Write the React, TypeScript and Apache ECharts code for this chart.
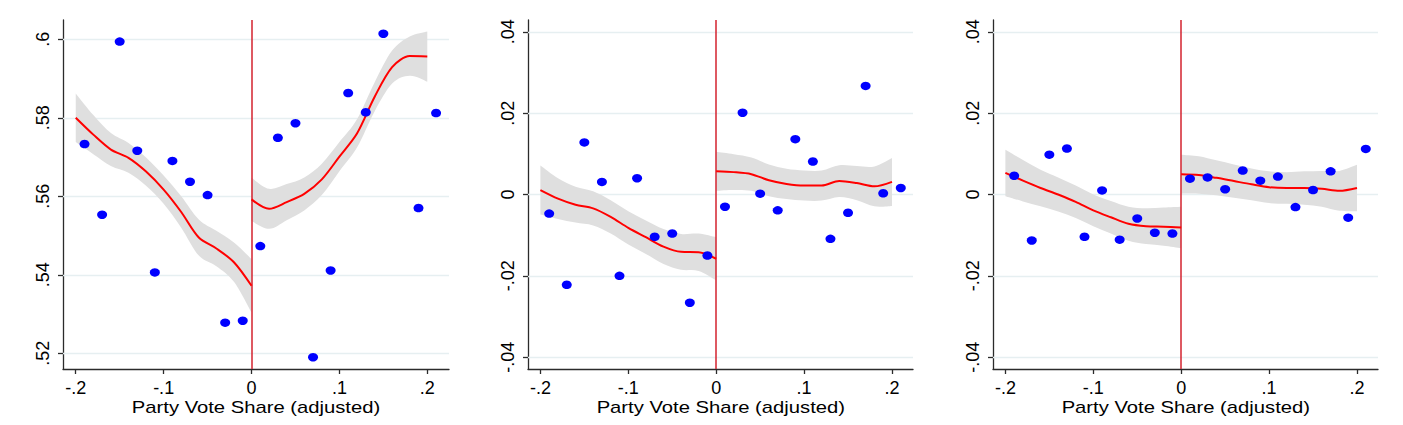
import React, { useEffect, useRef } from "react";
import * as echarts from "echarts";

// Bin centres of the binned scatter (shared by all panels)
const binX = [
  -0.19, -0.17, -0.15, -0.13, -0.11, -0.09, -0.07, -0.05, -0.03, -0.01,
  0.01, 0.03, 0.05, 0.07, 0.09, 0.11, 0.13, 0.15, 0.17, 0.19, 0.21,
];
// x positions where the local fits are read (left / right of cutoff)
const fitXLeft = [-0.2, -0.18, -0.16, -0.14, -0.12, -0.1, -0.08, -0.06, -0.04, -0.02, 0];
const fitXRight = [0, 0.02, 0.04, 0.06, 0.08, 0.1, 0.12, 0.14, 0.16, 0.18, 0.2];

// Panel 1
const p1Dots = [
  0.5733, 0.5553, 0.5994, 0.5716, 0.5406, 0.569, 0.5637, 0.5603, 0.5278, 0.5283,
  0.5473, 0.5749, 0.5786, 0.519, 0.5411, 0.5863, 0.5814, 0.6014, null, 0.557, 0.5812,
];
const p1FitL = [0.58, 0.5757, 0.5719, 0.5698, 0.5663, 0.5617, 0.556, 0.5495, 0.5467, 0.5432, 0.5372];
const p1HalfL = [0.0062, 0.005, 0.0042, 0.0038, 0.0036, 0.0036, 0.004, 0.0046, 0.0045, 0.005, 0.0068];
const p1FitR = [0.5592, 0.5568, 0.5585, 0.5606, 0.5643, 0.5701, 0.576, 0.5853, 0.5929, 0.5957, 0.5956];
const p1HalfR = [0.0055, 0.0051, 0.0046, 0.0042, 0.004, 0.0037, 0.0036, 0.0037, 0.0042, 0.005, 0.0064];

// Panel 2
const p2Dots = [
  -0.0047, -0.0222, 0.0128, 0.0031, -0.02, 0.004, -0.0104, -0.0096, -0.0266, -0.015,
  -0.003, 0.0201, 0.0002, -0.0039, 0.0136, 0.0081, -0.0109, -0.0045, 0.0267, 0.0003, 0.0016,
];
const p2FitL = [0.0011, -0.001, -0.0025, -0.0034, -0.0055, -0.0082, -0.0105, -0.0128, -0.0141, -0.0142, -0.0158];
const p2HalfL = [0.006, 0.005, 0.0044, 0.0042, 0.0041, 0.0041, 0.0041, 0.0043, 0.0044, 0.0046, 0.0053];
const p2FitR = [0.0057, 0.0055, 0.005, 0.0035, 0.0026, 0.0022, 0.0022, 0.0033, 0.0028, 0.002, 0.0031];
const p2HalfR = [0.0048, 0.0044, 0.0041, 0.0039, 0.0037, 0.0037, 0.0037, 0.0039, 0.0042, 0.0049, 0.0059];

// Panel 3
const p3Dots = [
  0.0046, -0.0113, 0.0098, 0.0113, -0.0104, 0.001, -0.0111, -0.0059, -0.0094, -0.0096,
  0.0039, 0.0042, 0.0013, 0.0059, 0.0034, 0.0044, -0.0031, 0.0011, 0.0057, -0.0057, 0.0112,
];
const p3FitL = [0.0053, 0.0034, 0.0016, 0.0, -0.0018, -0.0039, -0.0056, -0.0072, -0.0078, -0.0079, -0.0081];
const p3HalfL = [0.0057, 0.0051, 0.0045, 0.0042, 0.004, 0.0039, 0.004, 0.0042, 0.0044, 0.0047, 0.0051];
const p3FitR = [0.005, 0.0048, 0.0041, 0.0033, 0.0025, 0.0018, 0.0016, 0.0016, 0.0014, 0.0009, 0.0016];
const p3HalfR = [0.0048, 0.0046, 0.0043, 0.0041, 0.0039, 0.0039, 0.0039, 0.0041, 0.0044, 0.0049, 0.0057];

// Tick labels
const xTicks = [-0.2, -0.1, 0, 0.1, 0.2];
const yTicks1 = [0.52, 0.54, 0.56, 0.58, 0.6];
const yTicks23 = [-0.04, -0.02, 0, 0.02, 0.04];
const xTitle = "Party Vote Share (adjusted)";

const panels = [
  { dots: p1Dots, fitL: p1FitL, halfL: p1HalfL, fitR: p1FitR, halfR: p1HalfR, yTicks: yTicks1,
    xRange: [-0.2145, 0.2247], yRange: [0.516, 0.6049] },
  { dots: p2Dots, fitL: p2FitL, halfL: p2HalfL, fitR: p2FitR, halfR: p2HalfR, yTicks: yTicks23,
    xRange: [-0.2141, 0.2239], yRange: [-0.0429, 0.0429] },
  { dots: p3Dots, fitL: p3FitL, halfL: p3HalfL, fitR: p3FitR, halfR: p3HalfR, yTicks: yTicks23,
    xRange: [-0.2141, 0.2239], yRange: [-0.0429, 0.0429] },
];

// layout (pixels)
const gridBoxes = [
  { left: 63, top: 20, width: 386, height: 349 },
  { left: 528, top: 20, width: 385, height: 349 },
  { left: 993, top: 20, width: 385, height: 349 },
];
const titleCenters = [256, 720.8, 1185.8];

const FONT = "'Liberation Sans', Arial, Helvetica, sans-serif";
const AXIS_COLOR = "#2b2b2b";
const GRID_COLOR = "#e6eff1";
const BAND_COLOR = "#dfdfdf";
const FIT_COLOR = "#ff0000";
const CUT_COLOR = "#d3222e";
const DOT_COLOR = "#0000ff";

// Smooth confidence band shape: catmull-rom upper edge, straight end, catmull-rom lower edge
function smoothRun(ctx: any, pts: number[][], move: boolean) {
  if (!pts.length) return;
  if (move) ctx.moveTo(pts[0][0], pts[0][1]);
  else ctx.lineTo(pts[0][0], pts[0][1]);
  for (let i = 0; i < pts.length - 1; i++) {
    const p0 = pts[i - 1] || pts[i];
    const p1 = pts[i];
    const p2 = pts[i + 1];
    const p3 = pts[i + 2] || p2;
    const c1x = p1[0] + (p2[0] - p0[0]) / 6;
    const c1y = p1[1] + (p2[1] - p0[1]) / 6;
    const c2x = p2[0] - (p3[0] - p1[0]) / 6;
    const c2y = p2[1] - (p3[1] - p1[1]) / 6;
    ctx.bezierCurveTo(c1x, c1y, c2x, c2y, p2[0], p2[1]);
  }
}
const BandShape = echarts.graphic.extendShape({
  shape: { upper: [] as number[][], lower: [] as number[][] },
  buildPath(ctx: any, shape: any) {
    smoothRun(ctx, shape.upper, true);
    smoothRun(ctx, shape.lower.slice().reverse(), false);
    ctx.closePath();
  },
});
echarts.graphic.registerShape("ciBand", BandShape);

const fmt = (v: number) => {
  if (Math.abs(v) < 1e-12) return "0";
  const s = String(+v.toFixed(4));
  return s.replace(/^(-?)0\./, "$1.");
};

function buildOption() {
  const grid: any[] = [];
  const xAxis: any[] = [];
  const yAxis: any[] = [];
  const series: any[] = [];
  const graphic: any[] = [];

  panels.forEach((p, i) => {
    grid.push({ ...gridBoxes[i], containLabel: false });
    xAxis.push({
      type: "value",
      gridIndex: i,
      min: p.xRange[0],
      max: p.xRange[1],
      axisLine: { show: true, onZero: false, lineStyle: { color: AXIS_COLOR, width: 1.3 } },
      axisTick: { show: true, length: 5, customValues: xTicks, lineStyle: { color: AXIS_COLOR, width: 1.3 } },
      axisLabel: {
        customValues: xTicks,
        formatter: fmt,
        fontFamily: FONT,
        fontSize: 18,
        color: "#000",
        margin: 10,
      },
      splitLine: { show: false },
    });
    yAxis.push({
      type: "value",
      gridIndex: i,
      min: p.yRange[0],
      max: p.yRange[1],
      axisLine: { show: true, onZero: false, lineStyle: { color: AXIS_COLOR, width: 1.3 } },
      axisTick: { show: true, length: 5, customValues: p.yTicks, lineStyle: { color: AXIS_COLOR, width: 1.3 } },
      axisLabel: {
        customValues: p.yTicks,
        formatter: fmt,
        rotate: 90,
        fontFamily: FONT,
        fontSize: 18,
        color: "#000",
        margin: 11,
      },
      splitLine: { show: false },
    });

    // horizontal grid lines
    series.push({
      type: "line",
      xAxisIndex: i,
      yAxisIndex: i,
      data: [],
      silent: true,
      z: 1,
      markLine: {
        silent: true,
        symbol: ["none", "none"],
        z: 1,
        label: { show: false },
        lineStyle: { color: GRID_COLOR, width: 1.3, type: "solid" },
        data: p.yTicks.map((v) => ({ yAxis: v })),
      },
    });

    const sides = [
      { xs: fitXLeft, fit: p.fitL, half: p.halfL },
      { xs: fitXRight, fit: p.fitR, half: p.halfR },
    ];
    sides.forEach((s) => {
      const bandData = s.xs.map((x, k) => [x, s.fit[k] - s.half[k], s.fit[k] + s.half[k]]);
      series.push({
        type: "custom",
        xAxisIndex: i,
        yAxisIndex: i,
        silent: true,
        z: 2,
        clip: true,
        encode: { x: 0, y: [1, 2] },
        data: bandData,
        renderItem: (params: any, api: any) => {
          if (params.dataIndex !== 0) return null;
          const upper = bandData.map((d) => api.coord([d[0], d[2]]));
          const lower = bandData.map((d) => api.coord([d[0], d[1]]));
          return {
            type: "ciBand",
            shape: { upper, lower },
            style: { fill: BAND_COLOR, stroke: "none" },
          };
        },
      });
      series.push({
        type: "line",
        xAxisIndex: i,
        yAxisIndex: i,
        smooth: 0.3,
        symbol: "none",
        silent: true,
        z: 4,
        lineStyle: { color: FIT_COLOR, width: 2 },
        data: s.xs.map((x, k) => [x, s.fit[k]]),
      });
    });

    series.push({
      type: "scatter",
      xAxisIndex: i,
      yAxisIndex: i,
      z: 6,
      symbol: "circle",
      symbolSize: [10, 8.5],
      itemStyle: { color: DOT_COLOR, opacity: 1 },
      data: binX
        .map((x, k) => [x, p.dots[k]])
        .filter((d) => d[1] !== null && d[1] !== undefined),
      markLine: {
        silent: true,
        symbol: ["none", "none"],
        z: 3,
        label: { show: false },
        lineStyle: { color: CUT_COLOR, width: 1.5, type: "solid" },
        data: [{ xAxis: 0 }],
      },
    });

    graphic.push({
      type: "text",
      x: titleCenters[i],
      y: 407,
      scaleX: 1.19,
      style: {
        text: xTitle,
        fontFamily: FONT,
        fontSize: 17,
        fill: "#000",
        textAlign: "center",
        textVerticalAlign: "middle",
      },
    });
  });

  return {
    animation: false,
    backgroundColor: "#ffffff",
    grid,
    xAxis,
    yAxis,
    series,
    graphic,
  };
}

export default function App() {
  const ref = useRef<HTMLDivElement>(null);
  useEffect(() => {
    if (!ref.current) return;
    const chart = echarts.init(ref.current, undefined, { renderer: "svg" });
    chart.setOption(buildOption() as any);
    return () => chart.dispose();
  }, []);
  return (
    <div
      ref={ref}
      style={{ position: "fixed", left: 0, top: 0, width: 1403, height: 425, background: "#fff" }}
    />
  );
}
